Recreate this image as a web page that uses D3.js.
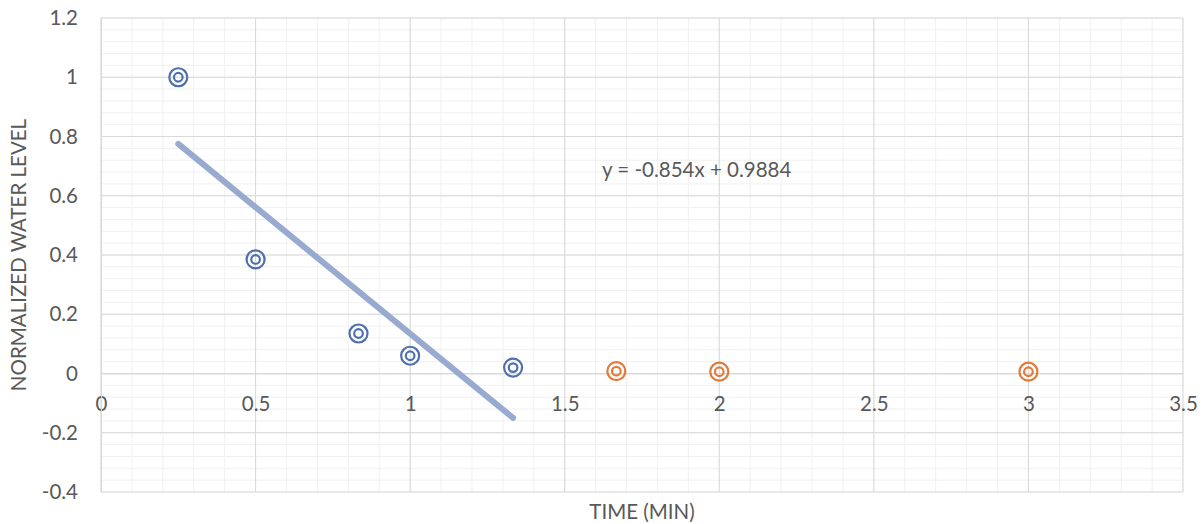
<!DOCTYPE html>
<html><head><meta charset="utf-8">
<script src="https://cdn.jsdelivr.net/npm/d3@7"></script>
<style>body{margin:0;background:#fff}text{font-family:Lato,"Open Sans",sans-serif;fill:#595959}</style>
</head><body><svg id="c" width="1202" height="524"></svg>
<script>
const measuredX = [0.25, 0.5, 0.833, 1, 1.333];
const measuredY = [1, 0.385, 0.135, 0.06, 0.02];
const extraX = [1.667, 2, 3];
const extraY = [0.008, 0.006, 0.006];
const xTicks = [0, 0.5, 1, 1.5, 2, 2.5, 3, 3.5];
const yTicks = [-0.4, -0.2, 0, 0.2, 0.4, 0.6, 0.8, 1, 1.2];
const slope = -0.854, intercept = 0.9884;
const eqLabel = "y = -0.854x + 0.9884";
const xTitle = "TIME (MIN)", yTitle = "NORMALIZED WATER LEVEL";

const FS = "20.5px";
const svg = d3.select("#c");
const L = 101, R = 1183, T = 18, B = 492;
const x = d3.scaleLinear().domain([0, 3.5]).range([L, R]);
const y = d3.scaleLinear().domain([-0.4, 1.2]).range([B, T]);
const fmt = d => String(+d.toFixed(2));

const g = svg.append("g");
const xMinor = d3.range(0, 36).map(i => i / 10);
const yMinor = d3.range(-10, 31).map(i => i * 0.04);
g.selectAll(".mx").data(xMinor).enter().append("line")
  .attr("x1", d => x(d)).attr("x2", d => x(d)).attr("y1", T).attr("y2", B)
  .attr("stroke", "#f0f0f0").attr("stroke-width", 1);
g.selectAll(".my").data(yMinor).enter().append("line")
  .attr("y1", d => y(d)).attr("y2", d => y(d)).attr("x1", L).attr("x2", R)
  .attr("stroke", "#f0f0f0").attr("stroke-width", 1);
g.selectAll(".Mx").data(xTicks).enter().append("line")
  .attr("x1", d => x(d)).attr("x2", d => x(d)).attr("y1", T).attr("y2", B)
  .attr("stroke", "#d9d9d9").attr("stroke-width", 1);
g.selectAll(".My").data(yTicks).enter().append("line")
  .attr("y1", d => y(d)).attr("y2", d => y(d)).attr("x1", L).attr("x2", R)
  .attr("stroke", "#d9d9d9").attr("stroke-width", 1);

const xAxis = d3.axisBottom(x).tickValues(xTicks).tickSize(0).tickPadding(23).tickFormat(fmt);
const xa = svg.append("g").attr("transform", `translate(0,${y(0)})`).call(xAxis);
xa.select(".domain").attr("stroke", "#d9d9d9");
xa.selectAll("text").style("font-size", FS).attr("fill", "#595959");

const yAxis = d3.axisLeft(y).tickValues(yTicks).tickSize(0).tickPadding(23).tickFormat(fmt);
const ya = svg.append("g").attr("transform", `translate(${L},0)`).call(yAxis);
ya.select(".domain").attr("stroke", "#d9d9d9");
ya.selectAll("text").style("font-size", FS).attr("fill", "#595959");

const x0 = d3.min(measuredX), x1 = d3.max(measuredX);
svg.append("line")
  .attr("x1", x(x0)).attr("y1", y(slope * x0 + intercept))
  .attr("x2", x(x1)).attr("y2", y(slope * x1 + intercept))
  .attr("stroke", "#98AACF")
  .attr("stroke-width", 6).attr("stroke-linecap", "round");

function markers(xs, ys, color) {
  const pts = xs.map((v, i) => [v, ys[i]]);
  const mg = svg.append("g");
  mg.selectAll(".o").data(pts).enter().append("circle")
    .attr("cx", d => x(d[0])).attr("cy", d => y(d[1])).attr("r", 9)
    .attr("fill", "none").attr("stroke", color).attr("stroke-width", 2.2);
  mg.selectAll(".i").data(pts).enter().append("circle")
    .attr("cx", d => x(d[0])).attr("cy", d => y(d[1])).attr("r", 4.3)
    .attr("fill", "none").attr("stroke", color).attr("stroke-width", 2.2);
}
markers(measuredX, measuredY, "#4F6FAD");
markers(extraX, extraY, "#E07B39");

svg.append("text").attr("x", 602).attr("y", 177).style("font-size", FS).text(eqLabel);

svg.append("text").attr("x", 642).attr("y", 519).attr("text-anchor", "middle")
  .style("font-size", FS).text(xTitle);
svg.append("text").attr("transform", `translate(26,${(T + B) / 2}) rotate(-90)`)
  .attr("text-anchor", "middle").style("font-size", FS).text(yTitle);
</script></body></html>
